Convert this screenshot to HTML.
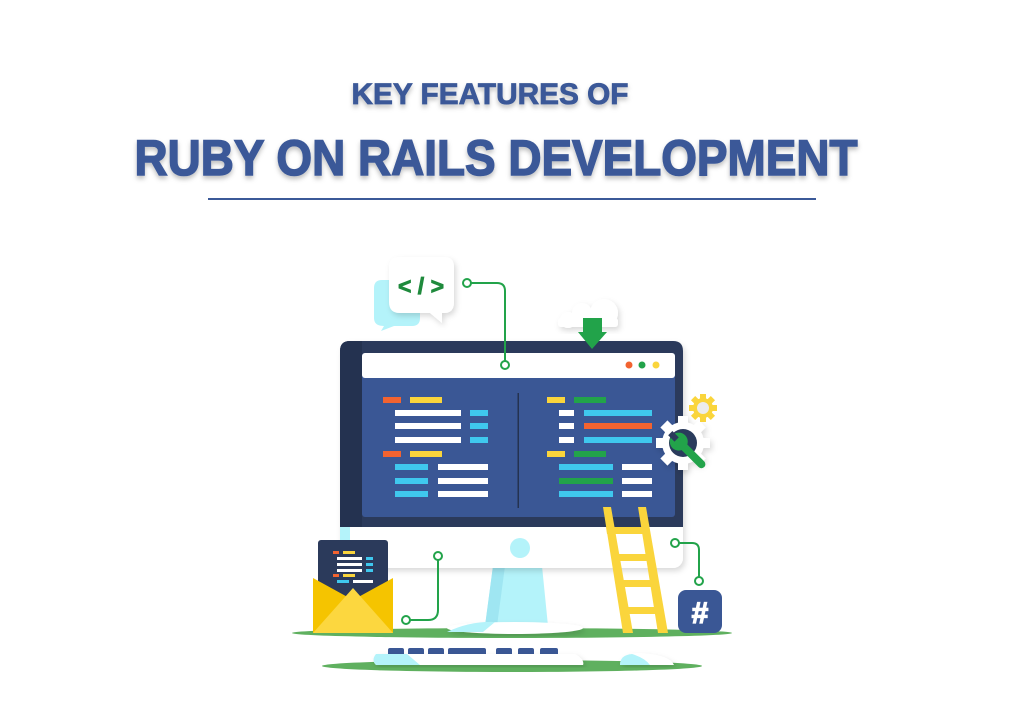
<!DOCTYPE html>
<html><head><meta charset="utf-8"><style>
html,body{margin:0;padding:0;background:#fff;width:1024px;height:720px;overflow:hidden}
svg{display:block}
</style></head><body>
<svg width="1024" height="720" viewBox="0 0 1024 720" xmlns="http://www.w3.org/2000/svg">
<defs>
<filter id="ts" x="-5%" y="-20%" width="110%" height="160%"><feDropShadow dx="0" dy="3" stdDeviation="2.5" flood-color="#000" flood-opacity="0.25"/></filter>
<filter id="sh" x="-20%" y="-20%" width="140%" height="140%"><feDropShadow dx="2" dy="3" stdDeviation="3" flood-color="#000" flood-opacity="0.15"/></filter>
</defs>
<g font-family="Liberation Sans, sans-serif" font-weight="bold" fill="#3b5998" stroke="#3b5998" filter="url(#ts)">
<text x="490" y="104" font-size="30" stroke-width="0.8" text-anchor="middle" textLength="277" lengthAdjust="spacingAndGlyphs">KEY FEATURES OF</text>
<text x="496" y="175" font-size="50" stroke-width="1.5" text-anchor="middle" textLength="723" lengthAdjust="spacingAndGlyphs">RUBY ON RAILS DEVELOPMENT</text>
</g>
<rect x="208" y="198" width="608" height="2" fill="#3b5998"/>

<ellipse cx="512" cy="633" rx="220" ry="5" fill="#5fb05f"/>
<ellipse cx="512" cy="666" rx="190" ry="6" fill="#5fb05f"/>

<polygon points="493,566 542,566 548,626 485,626" fill="#b4f3fa"/>
<polygon points="493,566 505,566 497,626 485,626" fill="#9fe6f2"/>
<ellipse cx="515" cy="628" rx="68" ry="6" fill="#fff" filter="url(#sh)"/>
<path d="M447,632 Q470,621 495,622 L483,632Z" fill="#b4f3fa"/>

<g filter="url(#sh)">
<rect x="340" y="341" width="343" height="227" rx="10" fill="#fff"/>
</g>
<path d="M350,341 H673 Q683,341 683,351 V527 H340 V351 Q340,341 350,341Z" fill="#2b3a5b"/>
<path d="M350,341 H362 V527 H340 V351 Q340,341 350,341Z" fill="#243250"/>
<rect x="340" y="527" width="10" height="14" fill="#b4f3fa"/>
<rect x="362" y="353" width="313" height="164" rx="3" fill="#3a5795"/>
<rect x="362" y="353" width="313" height="25" rx="3" fill="#fff"/>
<circle cx="629" cy="365" r="3.5" fill="#f26330"/>
<circle cx="642" cy="365" r="3.5" fill="#22a34a"/>
<circle cx="656" cy="365" r="3.5" fill="#fad53c"/>
<circle cx="520" cy="548" r="10" fill="#b4f3fa"/>
<rect x="517.5" y="393" width="1.5" height="115" fill="#243250"/>

<g>
<rect x="383" y="397" width="18" height="6" fill="#f26330"/><rect x="410" y="397" width="32" height="6" fill="#fad53c"/>
<rect x="395" y="410" width="66" height="6" fill="#fff"/><rect x="470" y="410" width="18" height="6" fill="#3fc8ee"/>
<rect x="395" y="423" width="66" height="6" fill="#fff"/><rect x="470" y="423" width="18" height="6" fill="#3fc8ee"/>
<rect x="395" y="437" width="66" height="6" fill="#fff"/><rect x="470" y="437" width="18" height="6" fill="#3fc8ee"/>
<rect x="383" y="451" width="18" height="6" fill="#f26330"/><rect x="410" y="451" width="32" height="6" fill="#fad53c"/>
<rect x="395" y="464" width="33" height="6" fill="#3fc8ee"/><rect x="438" y="464" width="50" height="6" fill="#fff"/>
<rect x="395" y="478" width="33" height="6" fill="#3fc8ee"/><rect x="438" y="478" width="50" height="6" fill="#fff"/>
<rect x="395" y="491" width="33" height="6" fill="#3fc8ee"/><rect x="438" y="491" width="50" height="6" fill="#fff"/>
</g>
<g>
<rect x="547" y="397" width="18" height="6" fill="#fad53c"/><rect x="574" y="397" width="32" height="6" fill="#22a34a"/>
<rect x="559" y="410" width="15" height="6" fill="#fff"/><rect x="584" y="410" width="68" height="6" fill="#3fc8ee"/>
<rect x="559" y="423" width="15" height="6" fill="#fff"/><rect x="584" y="423" width="68" height="6" fill="#f26330"/>
<rect x="559" y="437" width="15" height="6" fill="#fff"/><rect x="584" y="437" width="68" height="6" fill="#3fc8ee"/>
<rect x="547" y="451" width="18" height="6" fill="#fad53c"/><rect x="574" y="451" width="32" height="6" fill="#22a34a"/>
<rect x="559" y="464" width="54" height="6" fill="#3fc8ee"/><rect x="622" y="464" width="30" height="6" fill="#fff"/>
<rect x="559" y="478" width="54" height="6" fill="#22a34a"/><rect x="622" y="478" width="30" height="6" fill="#fff"/>
<rect x="559" y="491" width="54" height="6" fill="#3fc8ee"/><rect x="622" y="491" width="30" height="6" fill="#fff"/>
</g>

<path d="M382,280 H412 Q420,280 420,288 V318 Q420,326 412,326 H394 L381,331 L384,326 Q374,326 374,318 V288 Q374,280 382,280Z" fill="#b4f3fa"/>
<g filter="url(#sh)">
<path d="M400,257 H444 Q454,257 454,267 V302 Q454,313 444,313 H442 L442,323 L430,313 H400 Q389,313 389,302 V267 Q389,257 400,257Z" fill="#fff"/>
</g>
<text x="421" y="294" font-family="Liberation Sans, sans-serif" font-weight="bold" font-size="23" fill="#1f8a3c" stroke="#1f8a3c" stroke-width="0.8" text-anchor="middle">&lt; / &gt;</text>

<g fill="none" stroke="#22a34a" stroke-width="2">
<path d="M471,283 H497 Q505,283 505,291 V361"/>
<circle cx="467" cy="283" r="4" fill="#fff"/>
<circle cx="505" cy="365" r="4" fill="#fff"/>
<path d="M438,560 V610 Q438,620 428,620 H410"/>
<circle cx="438" cy="556" r="4" fill="#fff"/>
<circle cx="406" cy="620" r="4" fill="#fff"/>
<path d="M679,543 H692 Q699,543 699,550 V577"/>
<circle cx="675" cy="543" r="4" fill="#fff"/>
<circle cx="699" cy="581" r="4" fill="#fff"/>
</g>

<g filter="url(#sh)" fill="#fff">
<circle cx="568" cy="320" r="8"/>
<circle cx="582" cy="313" r="10"/>
<circle cx="604" cy="313" r="14"/>
<rect x="558" y="318" width="60" height="9" rx="3"/>
</g>
<rect x="583" y="318" width="19" height="15" fill="#22a34a"/>
<polygon points="578,332 607,332 592,349" fill="#22a34a"/>

<g transform="translate(703,408)" fill="#fad53c">
<circle r="10"/>
<g><rect x="-3" y="-14" width="6" height="28"/><rect x="-3" y="-14" width="6" height="28" transform="rotate(45)"/><rect x="-3" y="-14" width="6" height="28" transform="rotate(90)"/><rect x="-3" y="-14" width="6" height="28" transform="rotate(135)"/></g>
<circle r="6" fill="#ececec"/>
</g>
<g transform="translate(683,443)" filter="url(#sh)">
<circle r="21" fill="#fff"/>
<rect x="-5" y="-27" width="10" height="54" fill="#fff"/>
<rect x="-5" y="-27" width="10" height="54" fill="#fff" transform="rotate(45)"/>
<rect x="-5" y="-27" width="10" height="54" fill="#fff" transform="rotate(90)"/>
<rect x="-5" y="-27" width="10" height="54" fill="#fff" transform="rotate(135)"/>
<circle r="14" fill="#2b3a5b"/>
</g>
<g transform="translate(683,443) rotate(45)">
<rect x="-4" y="-2" width="36" height="8" rx="4" fill="#22a34a"/>
<circle cx="-4" cy="2" r="9" fill="#22a34a"/>
<rect x="-16" y="-1" width="9" height="6" fill="#2b3a5b"/>
</g>

<g fill="#fad53c">
<polygon points="603,507 611,507 633,633 623,633"/>
<polygon points="638,507 646,507 668,633 658,633"/>
<polygon points="606,527 643,527 644,534 607,534"/>
<polygon points="611,554 648,554 649,561 612,561"/>
<polygon points="615,580 652,580 653,587 616,587"/>
<polygon points="620,607 657,607 658,614 621,614"/>
</g>

<rect x="678" y="590" width="44" height="43" rx="8" fill="#3a5795"/>
<text x="700" y="623" font-family="Liberation Sans, sans-serif" font-weight="bold" font-size="30" fill="#fff" stroke="#fff" stroke-width="1.2" text-anchor="middle">#</text>

<rect x="318" y="540" width="70" height="62" rx="3" fill="#2b3a5b"/>
<rect x="333" y="551" width="6" height="3" fill="#f26330"/><rect x="343" y="551" width="12" height="3" fill="#fad53c"/>
<rect x="337" y="557" width="25" height="3" fill="#fff"/><rect x="366" y="557" width="7" height="3" fill="#3fc8ee"/>
<rect x="337" y="563" width="25" height="3" fill="#fff"/><rect x="366" y="563" width="7" height="3" fill="#3fc8ee"/>
<rect x="337" y="569" width="25" height="3" fill="#fff"/><rect x="366" y="569" width="7" height="3" fill="#3fc8ee"/>
<rect x="333" y="574" width="6" height="3" fill="#f26330"/><rect x="343" y="574" width="12" height="3" fill="#fad53c"/>
<rect x="337" y="580" width="12" height="3" fill="#3fc8ee"/><rect x="353" y="580" width="20" height="3" fill="#fff"/>
<polygon points="313,578 353,600 393,578 393,633 313,633" fill="#f5c400"/>
<polygon points="313,633 353,588 393,633" fill="#fcd73f"/>

<g fill="#3a5795">
<rect x="388" y="648" width="16" height="8" rx="2"/><rect x="408" y="648" width="16" height="8" rx="2"/><rect x="428" y="648" width="16" height="8" rx="2"/>
<rect x="448" y="648" width="38" height="8" rx="2"/><rect x="496" y="648" width="16" height="8" rx="2"/><rect x="518" y="648" width="16" height="8" rx="2"/><rect x="540" y="648" width="18" height="8" rx="2"/>
</g>
<path d="M376,654 H575 Q585,660 583,665 H376 Q371,660 376,654Z" fill="#fff" filter="url(#sh)"/>
<path d="M376,654 H407 L420,665 H376 Q371,660 376,654Z" fill="#b4f3fa"/>
<path d="M620,665 Q620,653 640,653 Q670,655 674,665Z" fill="#fff" filter="url(#sh)"/>
<path d="M620,665 Q620,655 632,654 Q645,658 650,665Z" fill="#b4f3fa"/>
</svg>
</body></html>
